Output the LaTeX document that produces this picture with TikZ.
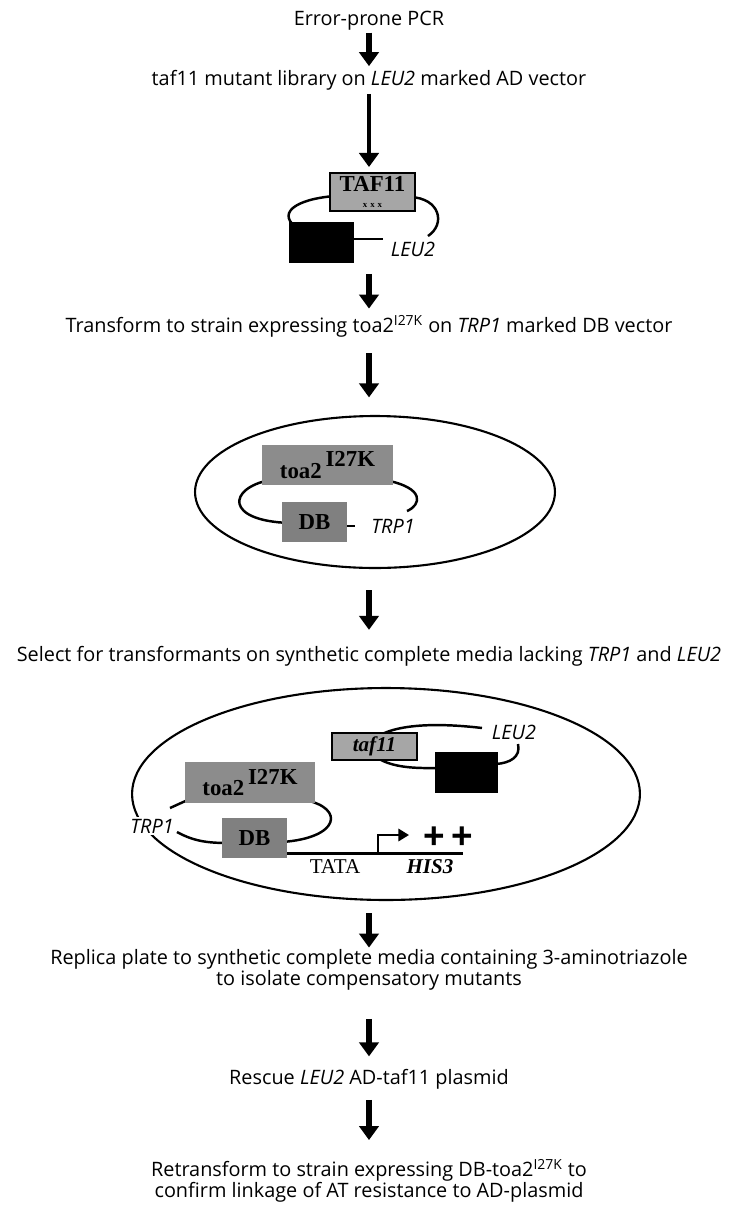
\documentclass[tikz,border=0pt]{standalone}
\usepackage{fontspec}
\setmainfont{Open Sans}
\newfontfamily\genefont{Liberation Serif}
\newfontfamily\plusfont{Liberation Sans}
\usetikzlibrary{arrows.meta, shapes.geometric, positioning, calc}

\begin{document}
\begin{tikzpicture}[
  x=0.02cm, y=-0.02cm,
  stepnote/.style={font=\fontsize{11.3}{11.8}\selectfont, align=center, inner sep=0pt},
  gene/.style={font=\fontsize{11.3}{11.8}\selectfont\itshape, inner sep=1pt},
  protbox/.style={rectangle, fill=black!45, inner sep=0pt, align=center, font=\genefont\bfseries\fontsize{13}{13}\selectfont},
  adbox/.style={rectangle, fill=black, inner sep=0pt, minimum width=1.3cm, minimum height=0.82cm},
  cell/.style={ellipse, draw, line width=1.2pt, inner sep=0pt},
  wire/.style={line width=1.4pt},
  arr/.style={-{Triangle[width=11pt, length=8pt]}, line width=3.2pt},
]
\useasboundingbox (0,0) rectangle (733,1211);

% Steps
\node[stepnote] (t1) at (369,21) {Error-prone PCR};
\node[stepnote] (t2) at (369,80) {taf11 mutant library on \textit{LEU2} marked AD vector};
\node[stepnote] (t3) at (369,326) {Transform to strain expressing toa2\textsuperscript{I27K} on \textit{TRP1} marked DB vector};
\node[stepnote] (t4) at (369,656) {Select for transformants on synthetic complete media lacking \textit{TRP1} and \textit{LEU2}};
\node[stepnote] (t5) at (369,970) {Replica plate to synthetic complete media containing 3-aminotriazole\\to isolate compensatory mutants};
\node[stepnote] (t6) at (369,1079) {Rescue \textit{LEU2} AD-taf11 plasmid};
\node[stepnote] (t7) at (369,1181) {Retransform to strain expressing DB-toa2\textsuperscript{I27K} to\\confirm linkage of AT resistance to AD-plasmid};

% AD-taf11 library plasmid
\draw[wire] (335,196) .. controls (295,199) and (274,214) .. (300,230);
\draw[wire] (410,197) .. controls (440,198) and (446,224) .. (428,236);
\draw[wire] (350,239) -- (383,239);
\node[protbox, draw, line width=0.8pt, fill=black!35, minimum width=1.7cm, minimum height=0.76cm] (taf) at (372.5,192)
  {TAF11\\[-4pt]{\fontsize{5}{5}\selectfont x\,\,x\,\,x}};
\node[adbox] (ad1) at (321.5,242.5) {};
\node[gene] (leu1) at (413,249) {LEU2};

% Cell with DB-toa2 plasmid
\node[cell, minimum width=7.2cm, minimum height=3.04cm] (cell1) at (375,492) {};
\draw[wire] (270,480) .. controls (228,488) and (224,521) .. (290,523);
\draw[wire] (385,480) .. controls (426,488) and (421,505) .. (407,511);
\draw[wire] (340,526) -- (355,526);
\node[protbox, minimum width=2.62cm, minimum height=0.8cm] (toa1) at (327.5,465) {toa2\,\raisebox{0.5em}{I27K}};
\node[protbox, fill=black!50, minimum width=1.3cm, minimum height=0.8cm] (db1) at (314.5,522) {DB};
\node[gene] (trp1) at (393,526) {TRP1};

% Cell with both plasmids and HIS3 reporter
\node[cell, minimum width=10.16cm, minimum height=4.24cm] (cell2) at (386,794) {};
\draw[wire] (368,745) .. controls (385,722) and (440,723) .. (482,728);
\draw[wire] (518,744) .. controls (521,757) and (510,763) .. (496,764);
\draw[wire] (368,750) .. controls (385,770) and (420,768) .. (440,768);
\node[protbox, draw, line width=0.8pt, fill=black!35, minimum width=1.7cm, minimum height=0.54cm, font=\genefont\bfseries\itshape\fontsize{12}{12}\selectfont] (taf2) at (374.5,746.5) {taf11};
\node[adbox, minimum width=1.26cm] (ad2) at (466.5,772.5) {};
\node[gene] (leu2) at (514,732) {LEU2};
\draw[wire] (170,808) -- (192,798);
\draw[wire] (177,832) .. controls (195,842) and (210,843) .. (230,843);
\draw[wire] (305,800) .. controls (345,808) and (340,838) .. (282,842);
\node[protbox, minimum width=2.6cm, minimum height=0.82cm] (toa2) at (250,782.5) {toa2\,\raisebox{0.5em}{I27K}};
\node[protbox, fill=black!50, minimum width=1.3cm, minimum height=0.8cm] (db2) at (254.5,838) {DB};
\node[gene, fill=white] (trp2) at (152,826) {TRP1};
\coordinate (tss) at (378,853);
\coordinate (his3end) at (463,853);
\coordinate (tssarrow) at (409,835);
\draw[line width=1.7pt] (tss -| db2.east) -- (his3end);
\draw[line width=1.2pt, -{Triangle[width=7pt, length=6pt]}] (tss) |- (tssarrow);
\node[font=\genefont\fontsize{12}{12}\selectfont, inner sep=0pt] (tata) at (335,867) {TATA};
\node[font=\genefont\bfseries\itshape\fontsize{12}{12}\selectfont, inner sep=0pt] (his3) at (430,867) {HIS3};
\node[font=\plusfont\bfseries\fontsize{21}{21}\selectfont, inner sep=0pt] (plus) at (448,838) {+\,+};

% Arrows
\draw[arr, shorten <=1pt, shorten >=2pt] (t1) -- (t2);
\draw[arr, line width=2.3pt, shorten <=2pt, shorten >=3pt] (t2) -- (t2 |- taf.north);
\draw[arr, shorten <=6pt, shorten >=3.5pt] (t3 |- ad1.south) -- (t3);
\draw[arr, shorten <=9pt, shorten >=10pt] (t3) -- (t3 |- cell1.north);
\draw[arr, shorten <=12pt, shorten >=9pt] (t4 |- cell1.south) -- (t4);
\draw[arr, shorten <=7pt, shorten >=1pt] (t5 |- cell2.south) -- (t5);
\draw[arr, shorten <=16pt, shorten >=7pt] (t5) -- (t6);
\draw[arr, shorten <=6pt, shorten >=11pt] (t6) -- (t7);

\end{tikzpicture}
\end{document}
